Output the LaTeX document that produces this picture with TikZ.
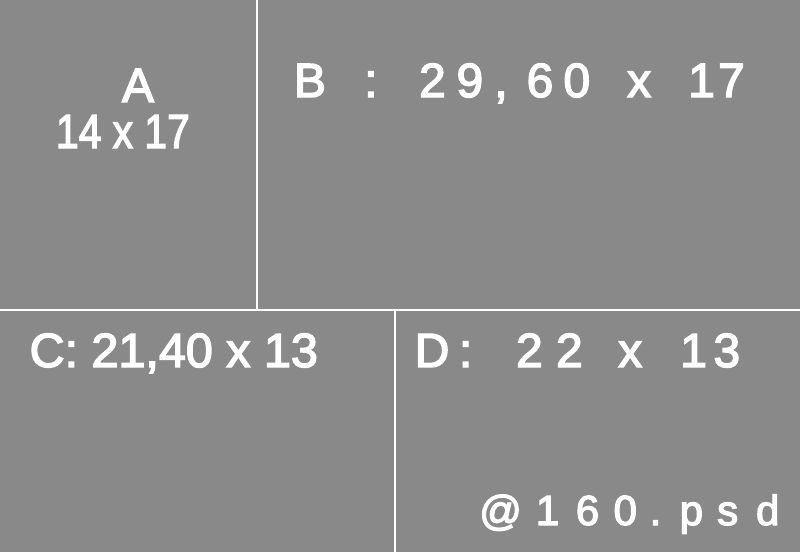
\documentclass[tikz,border=0pt]{standalone}
\usepackage{fontspec}
\setmainfont[FakeBold=3]{Liberation Sans}
% place glyph #2 with its origin #1 pt right of the node's origin
\newcommand\gl[2]{\rlap{\hspace*{#1pt}#2}}
\definecolor{bggray}{RGB}{137,137,137}
\tikzset{
  lbl/.style={text=white, inner sep=0pt, outer sep=0pt, anchor=base west, font=\fontsize{48}{48}\selectfont},
  divider/.style={draw=white, line width=2pt}
}
\begin{document}
\begin{tikzpicture}[x=1pt,y=-1pt]
\fill[bggray] (0,0) rectangle (800,552);
\useasboundingbox (0,0) rectangle (800,552);
\coordinate (v1top) at (257,0);
\coordinate (v1bot) at (257,310);
\coordinate (hl) at (0,310);
\coordinate (hr) at (800,310);
\coordinate (v2top) at (395,310);
\coordinate (v2bot) at (395,552);
\draw[divider] (v1top) -- (v1bot);
\draw[divider] (hl) -- (hr);
\draw[divider] (v2top) -- (v2bot);
\node[lbl, anchor=base] (a) at (138,102) {A};
\node[lbl] (asize) at (56,148) {\scalebox{0.85}[1]{14 x 17}};
\node[lbl] (b) at (293.5,97) {\gl{0}{B}\gl{70.1}{:}\gl{125.1}{2}\gl{162.5}{9}\gl{200.5}{,}\gl{232.7}{6}\gl{269.5}{0}\gl{333.2}{x}\gl{394.3}{1}\gl{424.1}{7}};
\node[lbl] (c) at (29.6,367) {\scalebox{1.01}[1]{C: 21,40 x 13}};
\node[lbl] (d) at (414.2,367) {\gl{0}{D}\gl{44.4}{:}\gl{101.4}{2}\gl{141.4}{2}\gl{203.5}{x}\gl{265.6}{1}\gl{298.8}{3}};
\node[lbl, font=\fontsize{42}{42}\selectfont] (e) at (478.7,525) {\gl{0}{@}\gl{56.7}{1}\gl{96.7}{6}\gl{134.5}{0}\gl{170.4}{.}\gl{200.5}{p}\gl{238}{s}\gl{276.9}{d}};
\end{tikzpicture}
\end{document}
